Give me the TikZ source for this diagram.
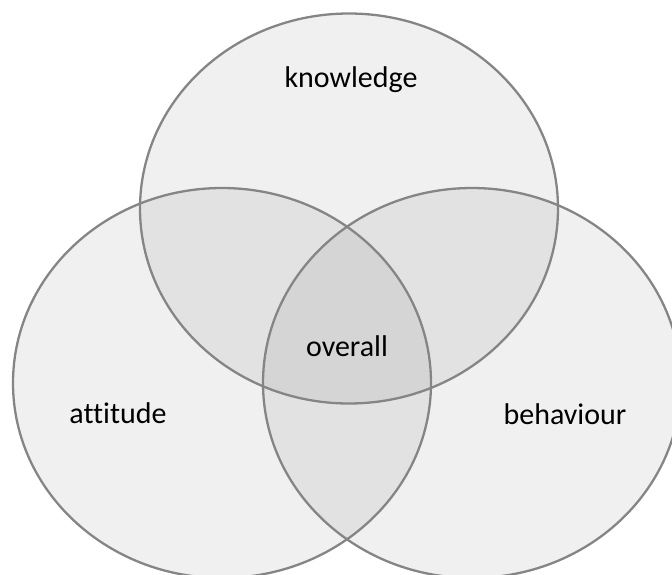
\documentclass[tikz,border=0pt]{standalone}
\usepackage{fontspec}
\setmainfont{Carlito}[Ligatures={NoCommon}]
\begin{document}
\begin{tikzpicture}[x=1pt,y=-1pt,
  setfill/.style={fill=black,fill opacity=0.06},
  setline/.style={draw=black!48,line width=2.3pt},
  lbl/.style={anchor=base,inner sep=0pt,text=black,font=\fontsize{30}{36}\selectfont}]
\useasboundingbox (0,0) rectangle (672,574);
\clip (0,0) rectangle (672,574);
\coordinate (ck) at (349,208.5);
\coordinate (ca) at (222,383);
\coordinate (cb) at (472,383);
\fill[setfill] (ck) ellipse [x radius=209,y radius=195];
\fill[setfill] (ca) ellipse [x radius=209,y radius=195];
\fill[setfill] (cb) ellipse [x radius=209,y radius=195];
\draw[setline] (ck) ellipse [x radius=209,y radius=195];
\draw[setline] (ca) ellipse [x radius=209,y radius=195];
\draw[setline] (cb) ellipse [x radius=209,y radius=195];
\node[lbl] (knowledge) at (351,87) {knowledge};
\node[lbl] (attitude) at (118,423) {attitude};
\node[lbl] (behaviour) at (565,424) {behaviour};
\node[lbl] (overall) at (347,356) {overall};
\end{tikzpicture}
\end{document}
